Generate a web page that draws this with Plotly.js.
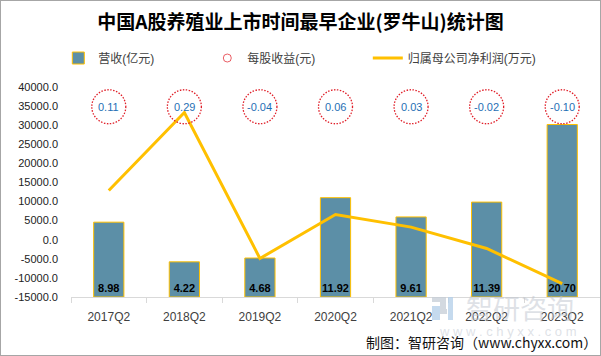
<!DOCTYPE html>
<html><head><meta charset="utf-8">
<script src="https://cdn.plot.ly/plotly-3.0.1.min.js"></script>
<style>html,body{margin:0;padding:0;background:#fff}
#wrap{position:relative;width:601px;height:356px}
#frame{position:absolute;left:0;top:0;width:601px;height:356px;box-sizing:border-box;border:1px solid #A6A6A6;pointer-events:none}
</style>
</head><body><div id="wrap"><div id="chart" style="width:601px;height:356px"></div><div id="frame"></div></div>
<script>
const categories = ['2017Q2','2018Q2','2019Q2','2020Q2','2021Q2','2022Q2','2023Q2'];
const revenue = [8.98, 4.22, 4.68, 11.92, 9.61, 11.39, 20.70];
const eps = [0.11, 0.29, -0.04, 0.06, 0.03, -0.02, -0.10];
const netProfit = [12900, 33300, -4900, 6600, 3300, -2300, -11500];
const yTickVals = [-15000, -10000, -5000, 0, 5000, 10000, 15000, 20000, 25000, 30000, 35000, 40000];
const yTickText = ['-15000.0','-10000.0','-5000.0','0.0','5000.0','10000.0','15000.0','20000.0','25000.0','30000.0','35000.0','40000.0'];
const seriesNames = ['营收(亿元)', '每股收益(元)', '归属母公司净利润(万元)'];

const FONT = 'Arial, "Liberation Sans", "Noto Sans CJK SC", sans-serif';
const EPS_Y = 0.906;

const traces = [
  {
    type: 'bar', name: seriesNames[0], x: categories, y: revenue, yaxis: 'y', legend: 'legend',
    width: 0.4,
    marker: {color: '#5C8FA7', line: {color: '#FFC000', width: 1}},
    text: revenue.map(v => v.toFixed(2)),
    textposition: 'inside', insidetextanchor: 'start', constraintext: 'none', textangle: 0,
    insidetextfont: {family: FONT, size: 11, color: '#000', weight: 'bold'},
    hoverinfo: 'skip'
  },
  {
    type: 'scatter', name: seriesNames[1], x: [null], y: [null], yaxis: 'y2', mode: 'markers', legend: 'legend',
    marker: {symbol: 'circle-open', size: 8, color: 'rgba(225,40,50,0.75)', line: {width: 1}},
    hoverinfo: 'skip'
  },
  {
    type: 'scatter', name: seriesNames[2], x: categories, y: netProfit, yaxis: 'y2', mode: 'lines', legend: 'legend2',
    line: {color: '#FFC000', width: 3},
    hoverinfo: 'skip'
  }
];

const LOGO_GRAY = 'rgba(196,204,214,0.75)';
const LOGO_BLUE = 'rgba(178,206,232,0.75)';
const logoRect = (x0, x1, y0, y1, c) => ({type: 'rect', xref: 'paper', yref: 'paper', x0, x1, y0, y1,
  fillcolor: c, line: {width: 0}, layer: 'above'});

const shapes = categories.map(c => ({
  type: 'circle', xref: 'x', yref: 'paper', xsizemode: 'pixel', ysizemode: 'pixel',
  xanchor: c, yanchor: EPS_Y, x0: -17, x1: 17, y0: -17, y1: 17,
  line: {color: '#E0202A', width: 1.3, dash: '1.5px,1.5px'}, layer: 'above'
})).concat([
  logoRect(0.6824, 0.7089, -0.0238, 0.0, LOGO_GRAY),
  logoRect(0.6975, 0.7089, -0.0571, -0.0238, LOGO_GRAY),
  logoRect(0.6824, 0.6975, -0.1095, -0.0429, LOGO_BLUE),
  logoRect(0.6975, 0.7108, -0.081, -0.0571, LOGO_GRAY),
  logoRect(0.7127, 0.7221, -0.1095, 0.0, LOGO_BLUE)
]);

const annotations = categories.map((c, i) => ({
  x: c, xref: 'x', y: EPS_Y, yref: 'paper', text: eps[i].toFixed(2), showarrow: false,
  font: {family: FONT, size: 11, color: '#1F6FB5'}, xanchor: 'center', yanchor: 'middle'
}));

annotations.push(
  {x: 0.849, y: -0.05, xref: 'paper', yref: 'paper', xanchor: 'center', yanchor: 'middle', text: '智研咨询', showarrow: false,
   font: {family: '"Noto Sans CJK SC", sans-serif', size: 27, color: 'rgba(190,196,206,0.5)'}},
  {x: 0.826, y: -0.163, xref: 'paper', yref: 'paper', xanchor: 'center', yanchor: 'middle', text: 'w w w . c h y x x . c o m', showarrow: false,
   font: {family: FONT, size: 13, color: 'rgba(190,196,206,0.5)'}},
  {x: 0.998, y: -0.214, xref: 'paper', yref: 'paper', xanchor: 'right', yanchor: 'middle',
   text: '制图：智研咨询（www.chyxx.com）', showarrow: false,
   font: {family: '"Noto Sans CJK SC", sans-serif', size: 14, color: '#111'}}
);

const legendBase = {orientation: 'h', xref: 'container', yref: 'container', y: 0.837, xanchor: 'left', yanchor: 'middle',
  font: {size: 12, color: '#404040'}, itemsizing: 'trace', bgcolor: 'rgba(0,0,0,0)'};

const layout = {
  width: 601, height: 356,
  margin: {l: 71, r: 1, t: 87, b: 59},
  paper_bgcolor: '#fff', plot_bgcolor: '#fff',
  font: {family: FONT, color: '#333'},
  showlegend: true,
  title: {text: '中国A股养殖业上市时间最早企业(罗牛山)统计图', x: 0.5, xref: 'container', y: 0.936, yref: 'container',
          xanchor: 'center', yanchor: 'middle',
          font: {family: '"Noto Sans CJK SC", sans-serif', size: 19, color: '#000', weight: 'bold'}},
  legend: Object.assign({}, legendBase, {x: 0.097, entrywidth: 104, entrywidthmode: 'pixels'}),
  legend2: Object.assign({}, legendBase, {x: 0.612}),
  xaxis: {type: 'category', range: [-0.5, 6.5], tickson: 'boundaries', ticks: 'outside', ticklen: 5,
          tickcolor: '#D9D9D9', showline: true, linecolor: '#D9D9D9', linewidth: 1, showgrid: false,
          ticklabelstandoff: 9,
          tickfont: {size: 12, color: '#404040'}, fixedrange: true},
  yaxis: {range: [0, 25.2], visible: false, fixedrange: true},
  yaxis2: {overlaying: 'y', side: 'left', range: [-15000, 40000], tickvals: yTickVals, ticktext: yTickText,
           showgrid: false, zeroline: false, showline: false, ticks: '', ticklabelstandoff: 12,
           tickfont: {size: 11, color: '#222'}, fixedrange: true},
  shapes: shapes,
  annotations: annotations,
  bargap: 0.6
};

Plotly.newPlot('chart', traces, layout, {staticPlot: true, displayModeBar: false});
</script></body></html>
